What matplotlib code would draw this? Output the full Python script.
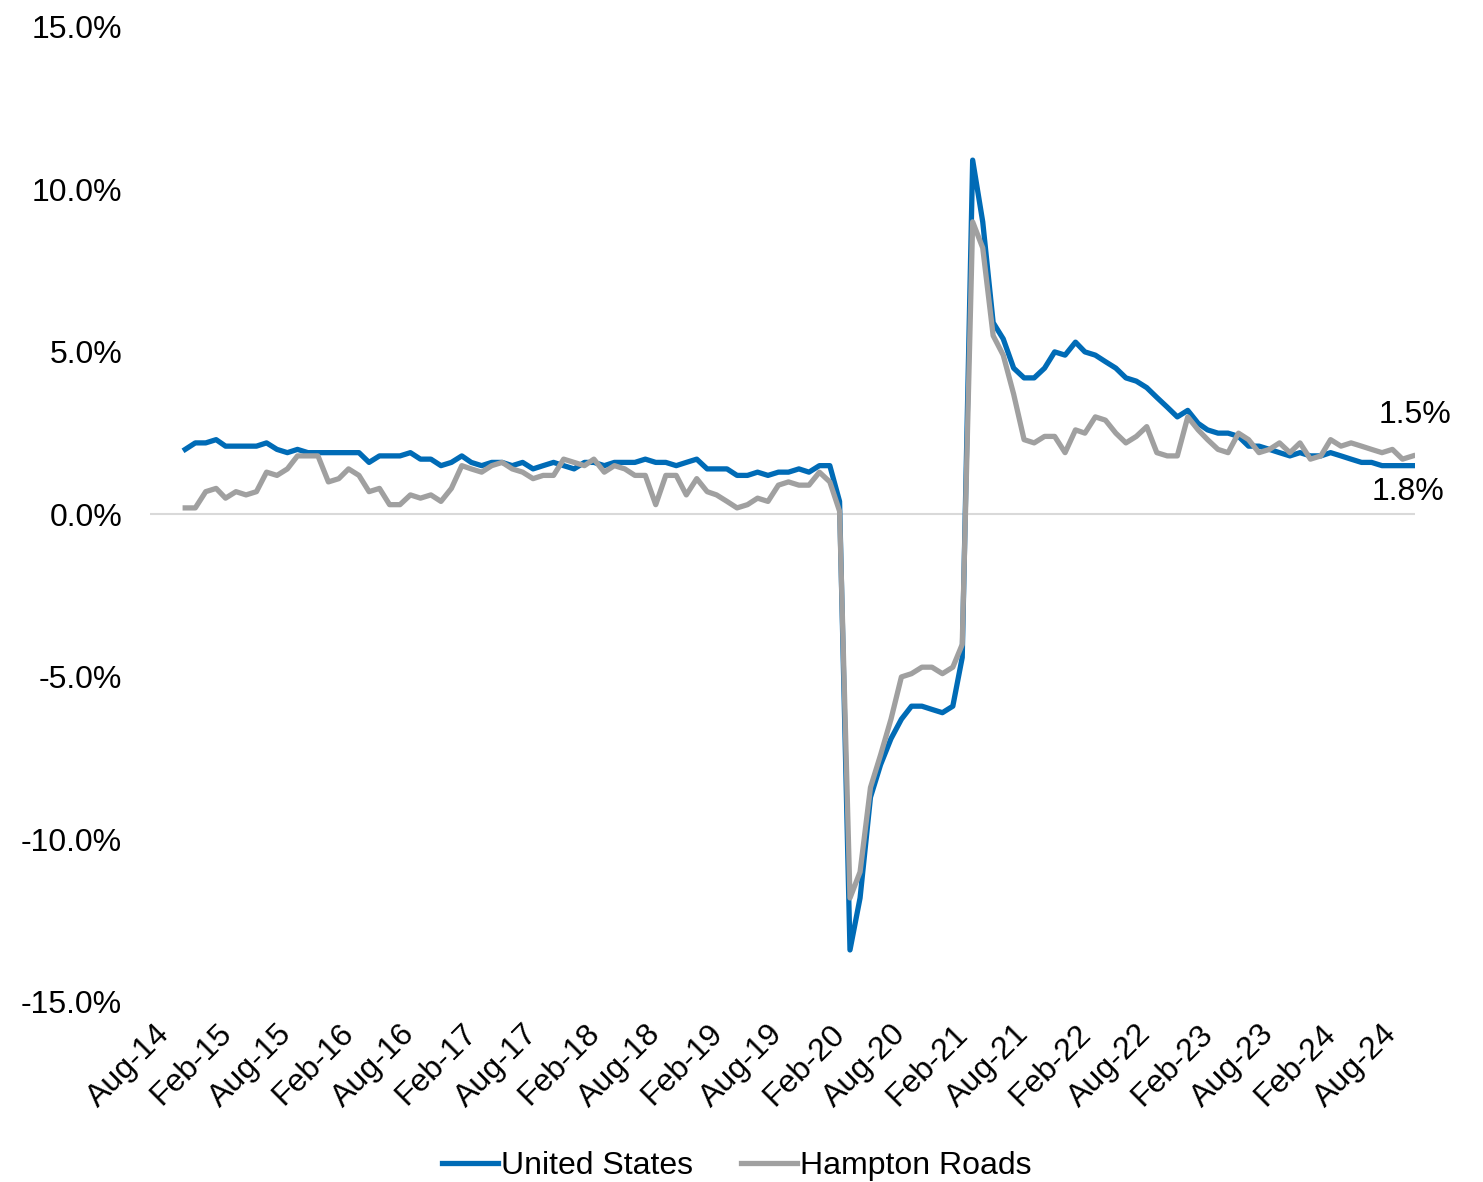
import matplotlib
matplotlib.use("Agg")
import matplotlib.pyplot as plt
import matplotlib.dates as mdates
import pandas as pd

plt.rcParams['font.family'] = ['Liberation Sans', 'DejaVu Sans']

# monthly year-over-year employment change (%), Nov-14 .. Nov-24
months = pd.date_range('2014-11-01', periods=121, freq='MS')

united_states = [
    2.0, 2.2, 2.2, 2.3, 2.1, 2.1, 2.1, 2.1, 2.2, 2.0, 1.9, 2.0, 1.9, 1.9, 1.9, 1.9,
    1.9, 1.9, 1.6, 1.8, 1.8, 1.8, 1.9, 1.7, 1.7, 1.5, 1.6, 1.8, 1.6, 1.5, 1.6, 1.6,
    1.5, 1.6, 1.4, 1.5, 1.6, 1.5, 1.4, 1.6, 1.6, 1.5, 1.6, 1.6, 1.6, 1.7, 1.6, 1.6,
    1.5, 1.6, 1.7, 1.4, 1.4, 1.4, 1.2, 1.2, 1.3, 1.2, 1.3, 1.3, 1.4, 1.3, 1.5, 1.5,
    0.4,
    -13.4, -11.8, -8.7, -7.7, -6.9, -6.3, -5.9, -5.9, -6.0, -6.1, -5.9, -4.4,
    10.9, 9.0, 5.9, 5.4, 4.5, 4.2, 4.2, 4.5, 5.0, 4.9, 5.3, 5.0, 4.9, 4.7, 4.5, 4.2,
    4.1, 3.9, 3.6, 3.3, 3.0, 3.2, 2.8,
    2.6, 2.5, 2.5, 2.4, 2.1, 2.1, 2.0, 1.9, 1.8, 1.9, 1.8, 1.8, 1.9, 1.8, 1.7, 1.6,
    1.6, 1.5, 1.5, 1.5, 1.5,
]

hampton_roads = [
    0.2, 0.2, 0.7, 0.8, 0.5, 0.7, 0.6, 0.7, 1.3, 1.2, 1.4, 1.8, 1.8, 1.8, 1.0, 1.1,
    1.4, 1.2, 0.7, 0.8, 0.3, 0.3, 0.6, 0.5, 0.6, 0.4, 0.8, 1.5, 1.4, 1.3, 1.5, 1.6,
    1.4, 1.3, 1.1, 1.2, 1.2, 1.7, 1.6, 1.5, 1.7, 1.3, 1.5, 1.4, 1.2, 1.2, 0.3, 1.2,
    1.2, 0.6, 1.1, 0.7, 0.6, 0.4, 0.2, 0.3, 0.5, 0.4, 0.9, 1.0, 0.9, 0.9, 1.3, 1.0,
    0.1,
    -11.8, -11.0, -8.4, -7.4, -6.3, -5.0, -4.9, -4.7, -4.7, -4.9, -4.7, -4.0,
    9.0, 8.2, 5.5, 4.9, 3.7, 2.3, 2.2, 2.4, 2.4, 1.9, 2.6, 2.5, 3.0, 2.9, 2.5, 2.2,
    2.4, 2.7, 1.9, 1.8, 1.8, 3.0, 2.6,
    2.3, 2.0, 1.9, 2.5, 2.3, 1.9, 2.0, 2.2, 1.9, 2.2, 1.7, 1.8, 2.3, 2.1, 2.2, 2.1,
    2.0, 1.9, 2.0, 1.7, 1.8,
]

y_ticks = [-15, -10, -5, 0, 5, 10, 15]
x_ticks = pd.date_range('2014-08-01', '2024-08-01', freq='6MS')

us_color = '#006BB6'
hr_color = '#A0A0A0'
fs = 23

fig = plt.figure(figsize=(14.83, 11.82), dpi=100)
ax = fig.add_axes([0.1011, 0.1523, 0.853, 0.825])

ax.axhline(0, color='#D9D9D9', lw=1.5, zorder=1)
ax.plot(months, united_states, color=us_color, lw=3.8, label='United States',
        solid_joinstyle='round', zorder=2)
ax.plot(months, hampton_roads, color=hr_color, lw=3.8, label='Hampton Roads',
        solid_joinstyle='round', zorder=3)

# end-of-series value labels
ax.annotate(f'{united_states[-1]:.1f}%', (months[-1], united_states[-1]),
            xytext=(1.5, 36.5), textcoords='offset points',
            ha='center', va='center', fontsize=fs)
ax.annotate(f'{hampton_roads[-1]:.1f}%', (months[-1], hampton_roads[-1]),
            xytext=(-3.3, -26), textcoords='offset points',
            ha='center', va='center', fontsize=fs)

ax.set_ylim(-15, 15)
ax.set_yticks(y_ticks)
ax.set_yticklabels([f'{v:.1f}%' for v in y_ticks])
ax.set_xlim(pd.Timestamp('2014-07-19'), pd.Timestamp('2024-11-07'))
ax.set_xticks(x_ticks)
ax.xaxis.set_major_formatter(mdates.DateFormatter('%b-%y'))

ax.tick_params(axis='y', length=0, pad=20, labelsize=fs)
ax.tick_params(axis='x', length=0, pad=12, labelsize=fs)
for lbl in ax.get_xticklabels():
    lbl.set_rotation(45)
    lbl.set_ha('right')
    lbl.set_rotation_mode('anchor')

for sp in ax.spines.values():
    sp.set_visible(False)

fig.legend(loc='center', bbox_to_anchor=(0.497, 0.0135), ncol=2, frameon=False,
           fontsize=fs, handlelength=1.75, handletextpad=0.1, columnspacing=1.5)

fig.savefig('out.png', dpi=100)
